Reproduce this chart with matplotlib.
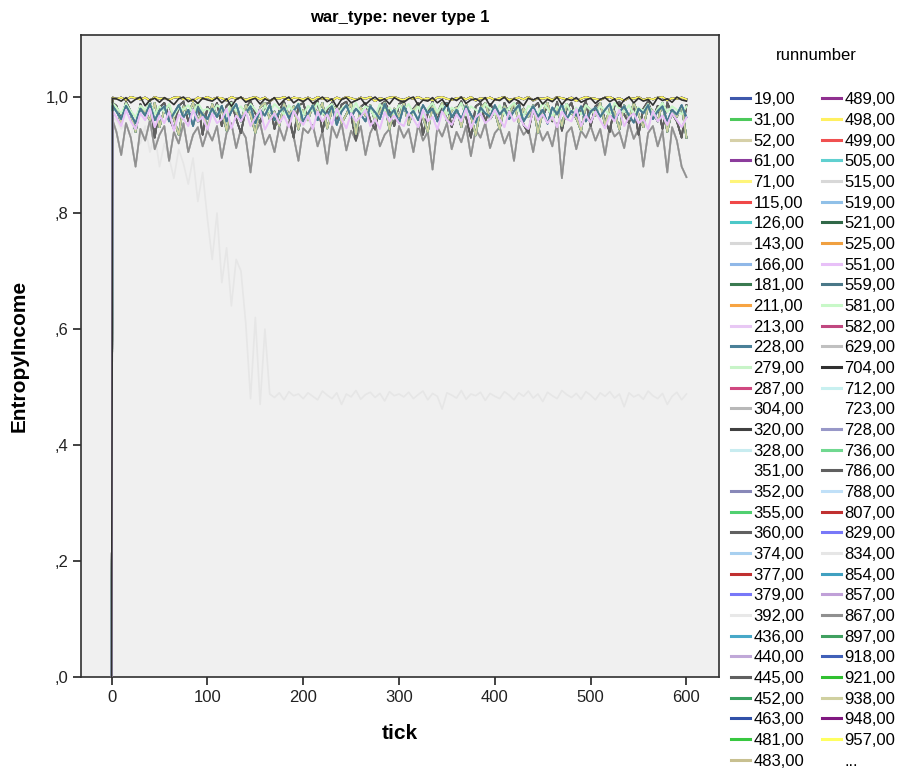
import matplotlib.pyplot as plt
from matplotlib.lines import Line2D

plt.rcParams['font.family'] = ['Liberation Sans', 'DejaVu Sans']

# tick grid for every run (start at 0, jump at tick 1, then every 5 ticks)
ticks = [0, 1] + list(range(5, 601, 5))

# EntropyIncome values, in thousandths
black_top = [0, 998,
    997, 993, 999, 990, 996, 1000, 985, 995, 998, 991, 999, 994, 987, 997, 1000, 992, 996, 989, 998, 995,
    993, 999, 990, 997, 984, 996, 1000, 991, 995, 998, 988, 997, 993, 999, 986, 995, 1000, 990, 996, 992,
    998, 989, 995, 1000, 992, 997, 983, 996, 999, 990, 994, 998, 987, 995, 1000, 993, 997, 988, 999, 994,
    991, 997, 1000, 986, 995, 993, 999, 990, 996, 984, 998, 994, 1000, 989, 995, 997, 992, 999, 985, 996,
    994, 1000, 990, 997, 993, 985, 998, 995, 999, 988, 996, 992, 1000, 987, 997, 994, 999, 991, 995, 998,
    989, 996, 999, 992, 997, 984, 995, 1000, 990, 998, 993, 996, 986, 999, 994, 997, 991, 1000, 995, 993]

dark_spiky = [0, 990,
    985, 960, 992, 975, 940, 988, 970, 995, 930, 982, 990, 965, 945, 985, 992, 958, 978, 990, 935, 983,
    970, 990, 950, 985, 992, 962, 938, 980, 993, 972, 955, 988, 990, 945, 976, 992, 968, 930, 985, 990,
    962, 985, 993, 940, 978, 990, 955, 987, 992, 968, 925, 983, 990, 960, 944, 986, 992, 975, 950, 988,
    993, 958, 980, 990, 935, 972, 992, 960, 986, 990, 948, 978, 993, 965, 930, 984, 990, 956, 988, 976,
    945, 990, 970, 985, 992, 952, 938, 982, 990, 966, 986, 958, 992, 942, 980, 990, 962, 975, 993, 950,
    984, 990, 960, 940, 986, 992, 970, 955, 988, 935, 980, 993, 962, 985, 945, 990, 972, 958, 930, 986]

pink_band = [0, 975,
    965, 950, 978, 958, 945, 972, 960, 980, 948, 968, 955, 975, 942, 970, 962, 950, 978, 958, 966, 944,
    972, 955, 962, 980, 946, 968, 958, 975, 950, 965, 978, 944, 960, 972, 955, 968, 948, 976, 962, 952,
    968, 945, 975, 958, 970, 952, 980, 962, 946, 972, 958, 966, 978, 950, 962, 945, 974, 958, 968, 955,
    950, 972, 962, 948, 978, 958, 966, 944, 975, 960, 952, 970, 958, 980, 946, 965, 972, 955, 962, 978,
    962, 948, 975, 958, 968, 952, 945, 978, 960, 970, 955, 966, 948, 975, 962, 958, 980, 950, 968, 956,
    975, 960, 946, 968, 958, 978, 950, 965, 972, 955, 962, 945, 976, 958, 968, 952, 972, 960, 948, 965]

gray_spiky = [0, 960,
    940, 900, 955, 930, 880, 945, 925, 960, 910, 935, 950, 890, 940, 920, 955, 905, 935, 948, 915, 942,
    925, 950, 895, 938, 955, 912, 945, 930, 870, 940, 955, 918, 935, 905, 948, 925, 958, 932, 890, 946,
    938, 952, 915, 940, 885, 950, 930, 955, 908, 942, 925, 950, 900, 938, 955, 915, 935, 945, 895, 950,
    930, 945, 905, 952, 925, 940, 875, 948, 932, 955, 910, 940, 922, 950, 898, 944, 930, 955, 912, 938,
    948, 920, 940, 890, 952, 935, 945, 905, 950, 925, 940, 915, 955, 860, 938, 948, 910, 942, 930, 950,
    925, 945, 900, 950, 932, 940, 912, 955, 928, 945, 880, 938, 950, 915, 942, 870, 948, 925, 880, 862]

teal_band = [0, 985,
    975, 962, 985, 970, 955, 980, 968, 988, 960, 976, 984, 958, 972, 986, 965, 978, 950, 982, 970, 962,
    980, 966, 985, 958, 975, 988, 962, 972, 984, 955, 978, 968, 986, 960, 974, 982, 964, 976, 988, 958,
    972, 985, 960, 978, 968, 984, 952, 975, 986, 965, 980, 970, 958, 984, 974, 962, 988, 968, 978, 955,
    984, 968, 976, 960, 986, 972, 980, 958, 974, 988, 965, 978, 962, 984, 970, 956, 982, 972, 966, 986,
    970, 980, 962, 976, 986, 958, 972, 984, 966, 978, 954, 982, 970, 988, 962, 976, 968, 984, 958, 975,
    982, 966, 978, 988, 960, 974, 984, 968, 956, 980, 972, 986, 962, 976, 984, 958, 978, 970, 986, 965]

green_band = [0, 990,
    982, 972, 988, 976, 965, 985, 978, 990, 970, 984, 975, 988, 968, 982, 978, 986, 972, 990, 976, 980,
    972, 986, 980, 968, 990, 976, 984, 970, 988, 978, 966, 985, 974, 988, 980, 970, 986, 975, 990, 968,
    985, 975, 990, 970, 982, 988, 968, 980, 986, 974, 990, 972, 984, 978, 966, 988, 976, 982, 970, 986,
    978, 988, 972, 984, 966, 980, 990, 974, 986, 970, 982, 976, 990, 968, 984, 978, 972, 988, 980, 970,
    986, 970, 982, 990, 976, 968, 985, 978, 972, 990, 980, 966, 984, 976, 988, 972, 982, 970, 986, 978,
    972, 984, 978, 968, 990, 980, 974, 986, 970, 982, 976, 988, 966, 980, 990, 974, 984, 978, 970, 984]

mid_band = [0, 988,
    980, 955, 990, 970, 940, 985, 975, 960, 990, 948, 978, 986, 962, 935, 984, 972, 990, 958, 976, 945,
    988, 966, 980, 942, 990, 974, 958, 986, 970, 938, 982, 990, 962, 975, 950, 988, 968, 984, 944, 978,
    960, 986, 972, 990, 946, 978, 984, 955, 970, 990, 936, 982, 968, 986, 958, 975, 990, 944, 980, 966,
    990, 952, 978, 986, 964, 940, 984, 972, 990, 958, 976, 982, 948, 988, 968, 934, 980, 990, 962, 975,
    945, 984, 970, 990, 956, 980, 966, 986, 938, 975, 990, 960, 982, 950, 988, 972, 964, 942, 986, 978,
    968, 990, 952, 980, 975, 944, 986, 962, 990, 970, 948, 984, 976, 958, 990, 940, 978, 966, 985, 930]

flat_high = [0, 999,
    997, 999, 995, 1000, 998, 996, 999, 994, 1000, 997, 998, 995, 999, 1000, 996, 998, 993, 999, 997, 1000,
    996, 999, 998, 994, 1000, 997, 999, 995, 998, 1000, 996, 999, 993, 998, 997, 1000, 995, 999, 998, 996,
    999, 995, 1000, 997, 998, 994, 999, 996, 1000, 998, 995, 999, 997, 1000, 993, 998, 996, 999, 1000, 997,
    995, 999, 997, 1000, 996, 998, 994, 999, 1000, 997, 995, 998, 999, 996, 1000, 994, 998, 997, 999, 995,
    998, 1000, 995, 997, 999, 996, 1000, 994, 998, 997, 999, 995, 1000, 998, 996, 999, 993, 997, 1000, 998,
    997, 995, 999, 1000, 996, 998, 994, 999, 997, 1000, 995, 998, 996, 999, 1000, 994, 998, 997, 999, 996]

decline = [0, 965,
    960, 945, 955, 930, 965, 920, 950, 905, 935, 880, 920, 895, 860, 910, 885, 850, 895, 820, 870, 790,
    720, 800, 680, 740, 640, 720, 700, 610, 480, 620, 470, 600, 488, 482, 490, 478, 492, 485, 488, 480,
    490, 484, 478, 493, 486, 480, 490, 470, 488, 483, 494, 479, 487, 491, 482, 489, 476, 492, 485, 488,
    483, 491, 480, 487, 493, 478, 489, 484, 462, 490, 486, 481, 494, 479, 488, 485, 491, 477, 489, 484,
    480, 492, 486, 478, 490, 484, 493, 481, 488, 475, 491, 485, 480, 494, 487, 482, 489, 479, 492, 486,
    478, 490, 484, 492, 481, 488, 466, 490, 483, 487, 479, 493, 485, 480, 489, 470, 484, 491, 478, 488]

runs = [19, 31, 52, 61, 71, 115, 126, 143, 166, 181, 211, 213, 228, 279, 287, 304,
        320, 328, 351, 352, 355, 360, 374, 377, 379, 392, 436, 440, 445, 452, 463,
        481, 483, 489, 498, 499, 505, 515, 519, 521, 525, 551, 559, 581, 582, 629,
        704, 712, 723, 728, 736, 786, 788, 807, 829, 834, 854, 857, 867, 897, 918,
        921, 938, 948, 957]

run_colors = ['#3e58ac', '#4cc95b', '#d6d0a8', '#8c3c9c', '#fff57a', '#f04848', '#4cc8c8', '#d8d8d8',
              '#90b8e8', '#3a7a50', '#f7a442', '#e8c8f4', '#4a8098', '#c8f4c8', '#d04880', '#b8b8b8',
              '#404040', '#c8ecf0', (1, 1, 1, 0), '#8888b8', '#50d070', '#606060', '#a8d0f0', '#c03030',
              '#7878f8', '#e8e8e8', '#48a8c8', '#c0a8d8', '#606060', '#38a060', '#3050a8',
              '#38c840', '#c8c090', '#903090', '#fff060', '#f05050', '#60d0d0', '#d8d8d8', '#90c0e8',
              '#306848', '#f0a040', '#e8c0f8', '#4a7888', '#c8f8c8', '#c04880', '#c0c0c0',
              '#303030', '#c8f0f0', (1, 1, 1, 0), '#9898c8', '#70d890', '#606060', '#c0e0f8', '#c03030',
              '#7878f8', '#e6e6e6', '#40a0c0', '#c0a0d8', '#909090', '#40a060', '#4060b8',
              '#30c030', '#d0d0a0', '#801880', '#ffff60']

run_series = ['flat', 'flat', 'mid', 'flat', 'flat', 'flat', 'mid', 'gray',
              'mid', 'mid', 'flat', 'pink', 'teal', 'green', 'flat', 'gray',
              'dark', 'mid', 'flat', 'teal', 'flat', 'dark', 'mid', 'mid',
              'flat', 'flat', 'teal', 'flat', 'dark', 'mid', 'flat',
              'flat', 'mid', 'flat', 'flat', 'flat', 'mid', 'gray', 'flat',
              'mid', 'flat', 'pink', 'teal', 'green', 'flat', 'gray',
              'black', 'mid', 'flat', 'mid', 'flat', 'dark', 'flat', 'mid',
              'flat', 'decline', 'mid', 'flat', 'gray', 'mid', 'flat',
              'flat', 'mid', 'flat', 'flat']

series = {'black': black_top, 'dark': dark_spiky, 'pink': pink_band, 'gray': gray_spiky,
          'teal': teal_band, 'green': green_band, 'mid': mid_band, 'flat': flat_high,
          'decline': decline}
zorders = {'decline': 1, 'flat': 2, 'gray': 2.1, 'dark': 2.2, 'mid': 2.3, 'green': 2.4,
           'teal': 2.5, 'pink': 2.7, 'black': 3}

ytick_vals = [0, 0.2, 0.4, 0.6, 0.8, 1.0]
ytick_labels = [',0', ',2', ',4', ',6', ',8', '1,0']

fig = plt.figure(figsize=(9.17, 7.69), dpi=100)
ax = fig.add_axes([0.0883, 0.1196, 0.6958, 0.8349])
ax.set_facecolor('#f0f0f0')

handles = []
labels = []
for run, col, key in zip(runs, run_colors, run_series):
    vals = [v / 1000 for v in series[key]]
    line, = ax.plot(ticks, vals, color=col, lw=1.2, zorder=zorders[key])
    handles.append(line)
    labels.append(f'{run},00')
handles.append(Line2D([], [], color='none'))
labels.append('...')

ax.set_xlim(-32, 634)
ax.set_ylim(0, 1.107)
ax.set_xticks(range(0, 601, 100))
ax.set_yticks(ytick_vals)
ax.set_yticklabels(ytick_labels)
ax.tick_params(direction='out', length=6, width=1.2, labelsize=12, pad=3, colors='#222222')
for sp in ax.spines.values():
    sp.set_color('#303030')
    sp.set_linewidth(1.2)

ax.set_title('war_type: never type 1', fontsize=12, fontweight='bold', pad=9)
ax.set_xlabel('tick', fontsize=15, fontweight='bold', labelpad=14)
ax.set_ylabel('EntropyIncome', fontsize=15, fontweight='bold', labelpad=12)

fig.text(816 / 917, 1 - 55 / 769, 'runnumber', fontsize=12, ha='center', va='center')
leg = fig.legend(handles, labels, loc='upper left', bbox_to_anchor=(0.797, 0.880), ncol=2,
                 frameon=False, fontsize=12, handlelength=1.15, handletextpad=0.2,
                 columnspacing=1.05, labelspacing=0.34, borderpad=0, borderaxespad=0)
for lh in leg.get_lines():
    lh.set_linewidth(2.2)

fig.savefig('out.png', dpi=100)
